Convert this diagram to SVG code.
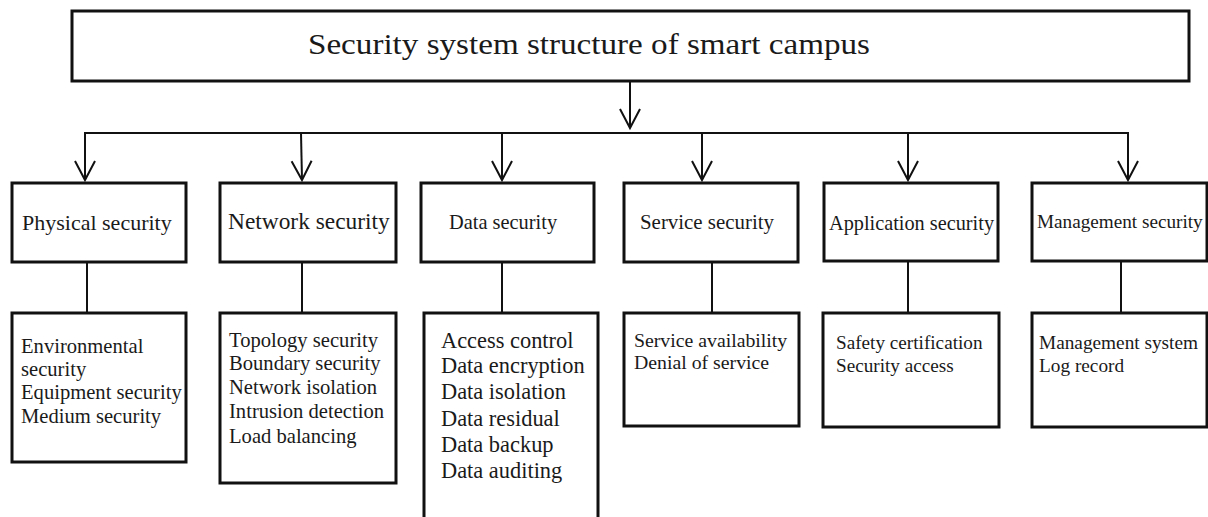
<svg xmlns="http://www.w3.org/2000/svg" width="1208" height="517" viewBox="0 0 1208 517">
  <defs>
    <style>
      .box { fill: #ffffff; stroke: #111111; stroke-width: 3; }
      .wire { fill: none; stroke: #111111; stroke-width: 2; }
      .lbl { font-family: "Liberation Serif", "Times New Roman", serif; fill: #1a1a1a; }
    </style>
    <marker id="vhead" markerUnits="userSpaceOnUse" viewBox="-22 -12 24 24" markerWidth="24" markerHeight="24" refX="0" refY="0" orient="auto" overflow="visible">
      <path d="M-19,-10 L0,0 L-19,10" fill="none" stroke="#111111" stroke-width="2"/>
    </marker>
  </defs>
  <rect width="1208" height="517" fill="#ffffff"/>

  <!-- connectors -->
  <g id="connectors">
    <line class="wire" x1="630" y1="81" x2="630" y2="128" marker-end="url(#vhead)"/>
    <line class="wire" x1="84" y1="133" x2="1129" y2="133"/>
    <line class="wire" x1="85" y1="133" x2="85" y2="180" marker-end="url(#vhead)"/>
    <line class="wire" x1="301" y1="133" x2="302" y2="180" marker-end="url(#vhead)"/>
    <line class="wire" x1="502" y1="133" x2="502" y2="180" marker-end="url(#vhead)"/>
    <line class="wire" x1="702" y1="133" x2="702" y2="180" marker-end="url(#vhead)"/>
    <line class="wire" x1="908" y1="133" x2="908" y2="180" marker-end="url(#vhead)"/>
    <line class="wire" x1="1128" y1="133" x2="1128" y2="180" marker-end="url(#vhead)"/>
    <line class="wire" x1="87" y1="262" x2="87" y2="313"/>
    <line class="wire" x1="302" y1="262" x2="302" y2="313"/>
    <line class="wire" x1="502" y1="262" x2="502" y2="313"/>
    <line class="wire" x1="712" y1="262" x2="712" y2="313"/>
    <line class="wire" x1="908" y1="262" x2="908" y2="313"/>
    <line class="wire" x1="1121" y1="262" x2="1121" y2="313"/>
  </g>

  <!-- root -->
  <g id="root">
    <rect class="box" x="72" y="11" width="1117" height="70"/>
    <text class="lbl" x="308" y="54" font-size="30" textLength="562" lengthAdjust="spacingAndGlyphs">Security system structure of smart campus</text>
  </g>

  <!-- first level -->
  <g id="physical">
    <rect class="box" x="12" y="183" width="174" height="79"/>
    <text class="lbl" x="22" y="230" font-size="22">Physical security</text>
  </g>
  <g id="network">
    <rect class="box" x="220" y="183" width="176" height="79"/>
    <text class="lbl" x="228" y="229" font-size="23.4">Network security</text>
  </g>
  <g id="data">
    <rect class="box" x="421" y="183" width="173" height="79"/>
    <text class="lbl" x="449" y="229" font-size="20.4">Data security</text>
  </g>
  <g id="service">
    <rect class="box" x="624" y="183" width="174" height="79"/>
    <text class="lbl" x="640" y="229" font-size="20.9">Service security</text>
  </g>
  <g id="application">
    <rect class="box" x="824" y="183" width="174" height="78"/>
    <text class="lbl" x="829" y="230" font-size="20.3">Application security</text>
  </g>
  <g id="management">
    <rect class="box" x="1032" y="183" width="175" height="78"/>
    <text class="lbl" x="1037" y="228" font-size="19.2">Management security</text>
  </g>

  <!-- second level -->
  <g id="physical-items">
    <rect class="box" x="12" y="313" width="174" height="149"/>
    <text class="lbl" font-size="20.6">
      <tspan x="21" y="353">Environmental</tspan>
      <tspan x="21" y="376">security</tspan>
      <tspan x="21" y="399">Equipment security</tspan>
      <tspan x="21" y="423">Medium security</tspan>
    </text>
  </g>
  <g id="network-items">
    <rect class="box" x="220" y="313" width="176" height="170"/>
    <text class="lbl" font-size="20.6">
      <tspan x="229" y="347">Topology security</tspan>
      <tspan x="229" y="370">Boundary security</tspan>
      <tspan x="229" y="394">Network isolation</tspan>
      <tspan x="229" y="418">Intrusion detection</tspan>
      <tspan x="229" y="443">Load balancing</tspan>
    </text>
  </g>
  <g id="data-items">
    <rect class="box" x="424" y="313" width="174" height="222"/>
    <text class="lbl" font-size="22.4">
      <tspan x="441" y="348">Access control</tspan>
      <tspan x="441" y="373">Data encryption</tspan>
      <tspan x="441" y="399">Data isolation</tspan>
      <tspan x="441" y="426">Data residual</tspan>
      <tspan x="441" y="452">Data backup</tspan>
      <tspan x="441" y="478">Data auditing</tspan>
    </text>
  </g>
  <g id="service-items">
    <rect class="box" x="624" y="313" width="175" height="113"/>
    <text class="lbl" font-size="19.8">
      <tspan x="634" y="347">Service availability</tspan>
      <tspan x="634" y="369">Denial of service</tspan>
    </text>
  </g>
  <g id="application-items">
    <rect class="box" x="823" y="313" width="176" height="114"/>
    <text class="lbl" font-size="19.2">
      <tspan x="836" y="349">Safety certification</tspan>
      <tspan x="836" y="372">Security access</tspan>
    </text>
  </g>
  <g id="management-items">
    <rect class="box" x="1032" y="313" width="175" height="114"/>
    <text class="lbl" font-size="19.3">
      <tspan x="1039" y="349">Management system</tspan>
      <tspan x="1039" y="372">Log record</tspan>
    </text>
  </g>
</svg>
